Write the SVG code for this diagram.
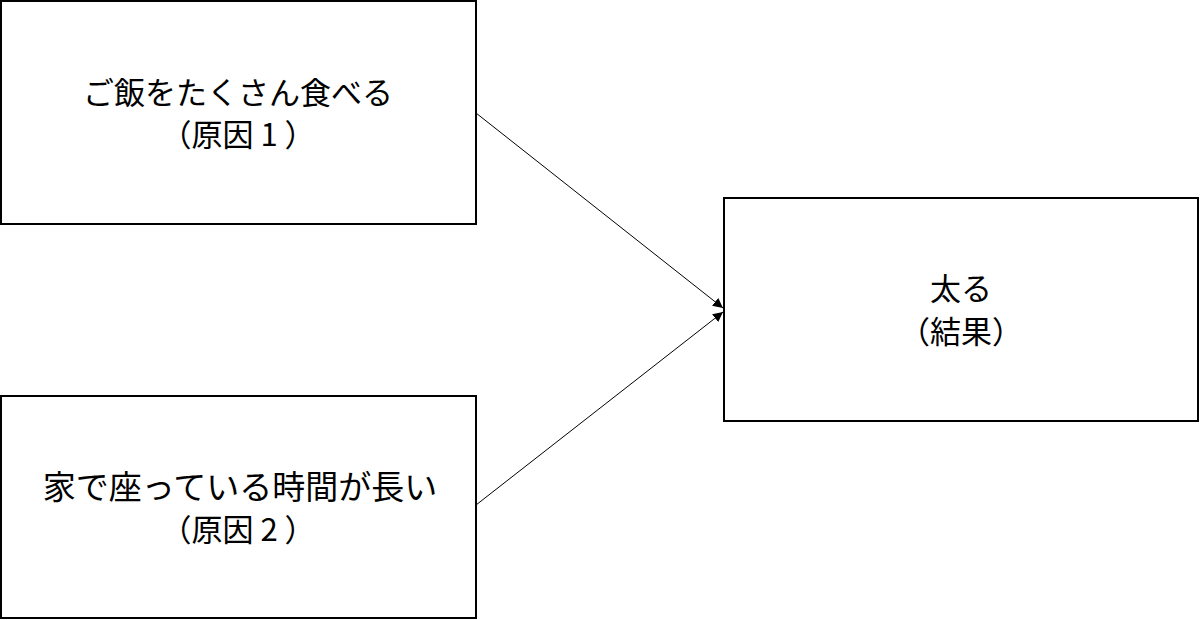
<svg xmlns="http://www.w3.org/2000/svg" width="1200" height="620" viewBox="0 0 1200 620">
<defs>
<style>
.box{fill:#fff;stroke:#000;stroke-width:2}
.t{font-family:"Noto Sans CJK JP",sans-serif;font-size:31px;fill:#000;text-anchor:middle}
.c{stroke:#000;stroke-width:1;fill:none;marker-end:url(#a)}
</style>
<marker id="a" viewBox="0 0 10 10" refX="10" refY="5" markerWidth="10" markerHeight="10" markerUnits="userSpaceOnUse" orient="auto"><path d="M0,0L10,5L0,10z" fill="#000"/></marker>
</defs>
<rect width="1200" height="620" fill="#fff"/>
<g id="n1"><rect class="box" x="1" y="1" width="475" height="223"/>
<text class="t" x="238" y="104">ご飯をたくさん食べる</text><text class="t" x="238" y="146">（原因 1 ）</text></g>
<g id="n2"><rect class="box" x="1" y="396" width="475" height="222"/>
<text class="t" x="240" y="499" style="font-size:33px">家で座っている時間が長い</text><text class="t" x="238" y="541">（原因 2 ）</text></g>
<g id="n3"><rect class="box" x="724" y="198" width="474" height="223"/>
<text class="t" x="961" y="300">太る</text><text class="t" x="961" y="343">（結果）</text></g>
<g id="connectors">
<line class="c" x1="476" y1="113" x2="723" y2="308"/>
<line class="c" x1="476" y1="505" x2="723" y2="312"/>
</g>
</svg>
